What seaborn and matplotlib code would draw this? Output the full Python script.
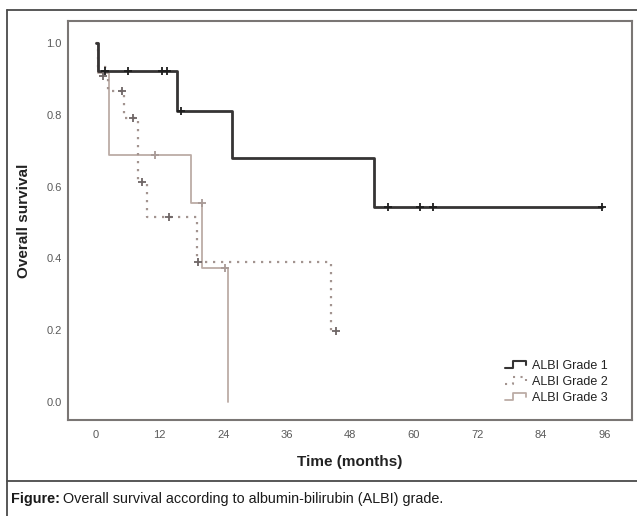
import numpy as np
import pandas as pd
import matplotlib
matplotlib.use("Agg")
import matplotlib.pyplot as plt
import seaborn as sns
from matplotlib.lines import Line2D
from matplotlib.legend_handler import HandlerBase

# ---- data ----
groups = ["ALBI Grade 1", "ALBI Grade 2", "ALBI Grade 3"]

g1_time = [0, 0.4, 15.2, 25.6, 52.4, 95.5]
g1_surv = [1.0, 0.923, 0.81, 0.68, 0.544, 0.544]
g1_cens_time = [1.7, 6.0, 12.5, 13.3, 16.0, 55.1, 61.2, 63.6, 95.5]
g1_cens_surv = [0.923, 0.923, 0.923, 0.923, 0.81, 0.544, 0.544, 0.544, 0.544]

g2_time = [0, 0.3, 2.3, 5.3, 8.0, 9.7, 19.0, 44.3, 45.3]
g2_surv = [1.0, 0.933, 0.867, 0.79, 0.613, 0.514, 0.39, 0.199, 0.199]
g2_cens_time = [1.3, 4.9, 7.0, 8.7, 13.8, 19.2, 45.3]
g2_cens_surv = [0.909, 0.867, 0.79, 0.613, 0.514, 0.39, 0.199]

g3_time = [0, 0.3, 2.5, 18.0, 20.0, 25.0]
g3_surv = [1.0, 0.917, 0.688, 0.553, 0.373, 0.0]
g3_cens_time = [11.2, 20.0, 24.3]
g3_cens_surv = [0.688, 0.553, 0.373]

x_ticks = [0, 12, 24, 36, 48, 60, 72, 84, 96]
y_ticks = [0.0, 0.2, 0.4, 0.6, 0.8, 1.0]

# ---- styling ----
sns.set_theme(style="white")
plt.rcParams["font.family"] = ["Liberation Sans", "DejaVu Sans"]

W, H = 637, 516
fig = plt.figure(figsize=(W / 100, H / 100), dpi=100)
ax = fig.add_axes([68 / W, 1 - 420 / H, (632 - 68) / W, (420 - 21) / H])

styles = {
    "ALBI Grade 1": dict(color="#363434", lw=2.0, ls="-", mcol="#1e1e1e"),
    "ALBI Grade 2": dict(color="#a39490", lw=1.6, ls=(0, (1, 2.6)), mcol="#6e6666"),
    "ALBI Grade 3": dict(color="#bcaca6", lw=1.3, ls="-", mcol="#a89a96"),
}
series = {
    "ALBI Grade 1": (g1_time, g1_surv, g1_cens_time, g1_cens_surv),
    "ALBI Grade 2": (g2_time, g2_surv, g2_cens_time, g2_cens_surv),
    "ALBI Grade 3": (g3_time, g3_surv, g3_cens_time, g3_cens_surv),
}

for g in reversed(groups):
    t, s, ct, cs = series[g]
    st = styles[g]
    df = pd.DataFrame({"time": t, "surv": s})
    sns.lineplot(data=df, x="time", y="surv", ax=ax, estimator=None, sort=False,
                 drawstyle="steps-post", color=st["color"], linewidth=st["lw"],
                 linestyle=st["ls"], label=g)
    dc = pd.DataFrame({"time": ct, "surv": cs})
    sns.scatterplot(data=dc, x="time", y="surv", ax=ax, marker="+", s=32,
                    color=st["mcol"], linewidth=1.3, zorder=5)

ax.set_xlim(-5.3, 101.2)
ax.set_ylim(-0.05, 1.061)
ax.set_xticks(x_ticks)
ax.set_yticks(y_ticks)
ax.set_xticklabels([str(v) for v in x_ticks])
ax.set_yticklabels([f"{v:.1f}" for v in y_ticks])
ax.tick_params(axis="both", length=0, labelsize=8, colors="#5a5a5a")
ax.tick_params(axis="x", pad=7)
ax.tick_params(axis="y", pad=4.5)
for sp in ax.spines.values():
    sp.set_color("#7a7674")
    sp.set_linewidth(1.5)
ax.set_xlabel("Time (months)", fontsize=11, fontweight="bold", color="#222222", labelpad=11)
ax.set_ylabel("Overall survival", fontsize=11, fontweight="bold", color="#222222", labelpad=11)


class StepHandler(HandlerBase):
    def create_artists(self, legend, orig_handle, xdescent, ydescent, width, height, fontsize, trans):
        xs = np.array([0, 0.35, 0.35, 0.85, 0.85]) * width - xdescent
        ys = np.array([0.15, 0.15, 0.85, 0.85, 0.45]) * height - ydescent
        ln = Line2D(xs, ys)
        ln.update_from(orig_handle)
        ln.set_drawstyle("default")
        ln.set_marker("")
        ln.set_linewidth(min(orig_handle.get_linewidth(), 1.5))
        ln.set_transform(trans)
        return [ln]


line_by_label = {l.get_label(): l for l in ax.get_lines()}
leg_handles = [line_by_label[g] for g in groups]
leg = ax.legend(leg_handles, groups, loc="lower right", bbox_to_anchor=(0.965, 0.028),
                frameon=False, fontsize=9, handlelength=2.0, handletextpad=0.15,
                labelspacing=0.32, borderaxespad=0,
                handler_map={Line2D: StepHandler()})
for txt in leg.get_texts():
    txt.set_color("#222222")

# outer frame and caption
bc = "#4a4a4a"
fig.add_artist(Line2D([7 / W, 1], [1 - 10 / H] * 2, transform=fig.transFigure, color=bc, lw=1.3))
fig.add_artist(Line2D([7 / W] * 2, [0, 1 - 10 / H], transform=fig.transFigure, color=bc, lw=1.3))
fig.add_artist(Line2D([7 / W, 1], [1 - 481 / H] * 2, transform=fig.transFigure, color=bc, lw=1.3))

cap_fam = ["Liberation Sans Narrow", "Liberation Sans"]
t1 = fig.text(11 / W, 1 - 499 / H, "Figure:", fontsize=10.4, fontweight="bold",
              family=cap_fam, color="#1a1a1a", va="center", ha="left")
fig.canvas.draw()
bb = t1.get_window_extent()
fig.text((bb.x1 + 3) / W, 1 - 499 / H,
         "Overall survival according to albumin-bilirubin (ALBI) grade.",
         fontsize=10.4, family=cap_fam, color="#1a1a1a", va="center", ha="left")

fig.savefig("out.png", dpi=100, facecolor="white")
